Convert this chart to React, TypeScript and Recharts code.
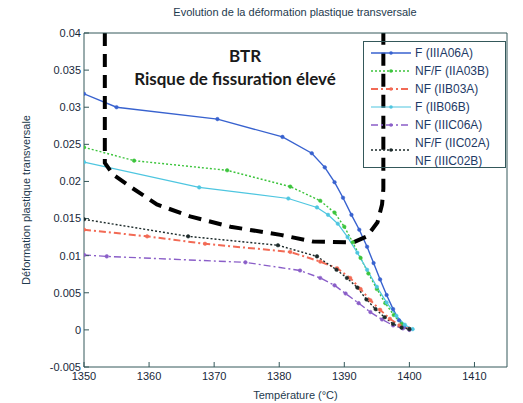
import React from 'react';
import { LineChart, Line, XAxis, YAxis } from 'recharts';

type P = { t: number; v: number };

const xTicks = [1350, 1360, 1370, 1380, 1390, 1400, 1410];
const yTicks = [-0.005, 0, 0.005, 0.01, 0.015, 0.02, 0.025, 0.03, 0.035, 0.04];

const blueF: P[] = [
  { t: 1350, v: 0.0318 }, { t: 1355, v: 0.03 }, { t: 1370.5, v: 0.0284 }, { t: 1380.5, v: 0.026 },
  { t: 1385, v: 0.0238 }, { t: 1387, v: 0.0219 }, { t: 1388.5, v: 0.0199 }, { t: 1389.8, v: 0.0178 },
  { t: 1391.1, v: 0.0155 }, { t: 1392.3, v: 0.0135 }, { t: 1393.5, v: 0.0112 }, { t: 1394.5, v: 0.009 },
  { t: 1395.5, v: 0.0068 }, { t: 1396.5, v: 0.0047 }, { t: 1397.5, v: 0.0028 }, { t: 1398.4, v: 0.0013 },
  { t: 1399.2, v: 0.0004 }, { t: 1400, v: 0.0001 },
];
const greenNFF: P[] = [
  { t: 1350, v: 0.0246 }, { t: 1357.7, v: 0.0228 }, { t: 1372, v: 0.0215 }, { t: 1381.7, v: 0.0193 },
  { t: 1386.3, v: 0.0174 }, { t: 1388.5, v: 0.0158 }, { t: 1390, v: 0.0139 }, { t: 1391.3, v: 0.0118 },
  { t: 1392.5, v: 0.0097 }, { t: 1393.7, v: 0.0076 }, { t: 1395, v: 0.0055 }, { t: 1396.3, v: 0.0036 },
  { t: 1397.6, v: 0.002 }, { t: 1398.8, v: 0.0008 }, { t: 1400, v: 0.0001 },
];
const redNF: P[] = [
  { t: 1350, v: 0.0135 }, { t: 1359.7, v: 0.0126 }, { t: 1368.6, v: 0.0116 }, { t: 1381.7, v: 0.0105 },
  { t: 1386.3, v: 0.0092 }, { t: 1388.9, v: 0.0083 }, { t: 1390.9, v: 0.007 }, { t: 1392.5, v: 0.0055 },
  { t: 1394, v: 0.004 }, { t: 1395.5, v: 0.0027 }, { t: 1397, v: 0.0015 }, { t: 1398.5, v: 0.0006 },
  { t: 1400, v: 0.0001 },
];
const cyanF: P[] = [
  { t: 1350, v: 0.0226 }, { t: 1367.7, v: 0.0192 }, { t: 1381.4, v: 0.0177 }, { t: 1385.8, v: 0.0165 },
  { t: 1387.5, v: 0.0155 }, { t: 1389, v: 0.0143 }, { t: 1390.5, v: 0.0125 }, { t: 1392, v: 0.0104 },
  { t: 1393.5, v: 0.0081 }, { t: 1395, v: 0.0058 }, { t: 1396.5, v: 0.0037 }, { t: 1398, v: 0.0019 },
  { t: 1399.3, v: 0.0007 }, { t: 1400.5, v: 0.0001 },
];
const purpleNF: P[] = [
  { t: 1350, v: 0.0101 }, { t: 1353.5, v: 0.0099 }, { t: 1374.8, v: 0.0091 }, { t: 1383.2, v: 0.008 },
  { t: 1386.3, v: 0.007 }, { t: 1388.5, v: 0.006 }, { t: 1390.2, v: 0.0049 }, { t: 1392.2, v: 0.0036 },
  { t: 1394, v: 0.0024 }, { t: 1395.8, v: 0.0014 }, { t: 1397.5, v: 0.0006 }, { t: 1399, v: 0.0002 },
  { t: 1400, v: 0.0 },
];
const blackNFF: P[] = [
  { t: 1350, v: 0.0149 }, { t: 1366, v: 0.0126 }, { t: 1379.8, v: 0.0114 }, { t: 1385.8, v: 0.0099 },
  { t: 1388.8, v: 0.0081 }, { t: 1390.4, v: 0.007 }, { t: 1392, v: 0.0057 }, { t: 1393.4, v: 0.0041 },
  { t: 1394.8, v: 0.0028 }, { t: 1396.2, v: 0.0017 }, { t: 1397.5, v: 0.0008 }, { t: 1398.8, v: 0.0003 },
  { t: 1400, v: 0.0001 },
];
const btrLimit: P[] = [
  { t: 1353.2, v: 0.04 }, { t: 1353.2, v: 0.0225 }, { t: 1354.5, v: 0.0209 }, { t: 1357.1, v: 0.0193 },
  { t: 1361.2, v: 0.0169 }, { t: 1366.3, v: 0.0153 }, { t: 1372.5, v: 0.0139 }, { t: 1380.2, v: 0.0128 },
  { t: 1385.2, v: 0.0119 }, { t: 1391.4, v: 0.0118 }, { t: 1393.5, v: 0.0126 }, { t: 1395.1, v: 0.0145 },
  { t: 1395.8, v: 0.0169 }, { t: 1396, v: 0.019 }, { t: 1396, v: 0.04 },
];

const seriesNames = ['F (IIIA06A)', 'NF/F (IIA03B)', 'NF (IIB03A)', 'F (IIB06B)', 'NF (IIIC06A)', 'NF/F (IIC02A)'];
const lastExtraName = 'NF (IIIC02B)';

const series = [
  { name: seriesNames[0], data: blueF, color: '#3862cf', dash: undefined, w: 1.4 },
  { name: seriesNames[1], data: greenNFF, color: '#3cc43c', dash: '2 2', w: 1.4 },
  { name: seriesNames[2], data: redNF, color: '#f26a55', dash: '7 3 2 3', w: 2 },
  { name: seriesNames[3], data: cyanF, color: '#4ec6e0', dash: undefined, w: 1.2 },
  { name: seriesNames[4], data: purpleNF, color: '#8a5ec8', dash: '7 3 2 3', w: 1.4 },
  { name: seriesNames[5], data: blackNFF, color: '#1c2a2a', dash: '2 2', w: 1.4 },
];

const axisColor = '#34585a';
const tickStyle = { fontFamily: 'Liberation Sans, Arial, sans-serif', fontSize: 11, fill: '#18283a' };

export default function App() {
  return (
    <div style={{ position: 'absolute', left: 0, top: 0, width: 523, height: 403, background: '#fff' }}>
      <LineChart width={523} height={403} margin={{ top: 32, right: 0, bottom: 0, left: 0 }}>
        <XAxis
          xAxisId="b"
          type="number"
          dataKey="t"
          domain={[1350, 1415]}
          ticks={xTicks}
          allowDataOverflow
          height={36}
          stroke={axisColor}
          tickSize={-5}
          tickMargin={10}
          tick={tickStyle}
          label={{ value: 'Température (°C)', position: 'insideBottom', offset: 4, style: { ...tickStyle, fontSize: 11, fill: '#1e3a4e' } }}
        />
        <XAxis
          xAxisId="t"
          orientation="top"
          type="number"
          dataKey="t"
          domain={[1350, 1415]}
          ticks={xTicks}
          allowDataOverflow
          height={1}
          stroke={axisColor}
          tickSize={-5}
          tick={false}
        />
        <YAxis
          yAxisId="l"
          type="number"
          domain={[-0.005, 0.04]}
          ticks={yTicks}
          allowDataOverflow
          width={84}
          stroke={axisColor}
          tickSize={-5}
          tickMargin={8}
          tick={tickStyle}
          label={{ value: 'Déformation plastique transversale', angle: -90, position: 'insideLeft', offset: 26, style: { ...tickStyle, fontSize: 11, fill: '#1e3a4e', textAnchor: 'middle' } }}
        />
        <YAxis
          yAxisId="r"
          orientation="right"
          type="number"
          domain={[-0.005, 0.04]}
          ticks={yTicks}
          allowDataOverflow
          width={16}
          stroke={axisColor}
          tickSize={-5}
          tick={false}
        />
        {series.map((s) => (
          <Line
            key={s.name}
            xAxisId="b"
            yAxisId="l"
            data={s.data}
            dataKey="v"
            name={s.name}
            type="linear"
            stroke={s.color}
            strokeWidth={s.w}
            strokeDasharray={s.dash}
            dot={{ r: 1.8, fill: s.color, stroke: s.color, strokeWidth: 0.5, strokeDasharray: '' }}
            isAnimationActive={false}
          />
        ))}
        <Line
          xAxisId="b"
          yAxisId="l"
          data={btrLimit}
          dataKey="v"
          name="BTR"
          type="linear"
          stroke="#000"
          strokeWidth={4}
          strokeDasharray="13 8"
          dot={false}
          legendType="none"
          isAnimationActive={false}
        />
      </LineChart>
      <div style={{ position: 'absolute', left: 0, width: 590, top: 6, textAlign: 'center', fontFamily: 'Liberation Sans, Arial, sans-serif', fontSize: 11, color: '#1e3a4e' }}>
        Evolution de la déformation plastique transversale
      </div>
      <div style={{ position: 'absolute', left: 145, width: 200, top: 45, textAlign: 'center', fontFamily: 'Lato, Open Sans, sans-serif', fontWeight: 700, fontSize: 17, lineHeight: '22px', color: '#1a1a1a' }}>
        BTR
      </div>
      <div style={{ position: 'absolute', left: 115, width: 240, top: 68, textAlign: 'center', fontFamily: 'Lato, Open Sans, sans-serif', fontWeight: 700, fontSize: 17, lineHeight: '22px', color: '#1a1a1a', whiteSpace: 'nowrap' }}>
        Risque de fissuration élevé
      </div>
      <div style={{ position: 'absolute', left: 363, top: 41, width: 141, height: 125, border: `1px solid ${axisColor}` }}>
        <svg width={141} height={125} style={{ position: 'absolute', left: 0, top: 0 }}>
          {series.map((s, i) => {
            const y = i < 5 ? 11 + i * 18 : 108;
            return (
              <g key={s.name}>
                <line x1={7} x2={47} y1={y} y2={y} stroke={s.color} strokeWidth={s.w} strokeDasharray={s.dash} />
                <circle cx={27} cy={y} r={1.8} fill={s.color} />
              </g>
            );
          })}
        </svg>
        {seriesNames.map((n, i) => (
          <div key={n} style={{ position: 'absolute', left: 51, top: 3 + i * 18, fontFamily: 'Liberation Sans, Arial, sans-serif', fontSize: 12, color: '#1e3a66', whiteSpace: 'nowrap', lineHeight: '16px' }}>
            {n}
          </div>
        ))}
        <div style={{ position: 'absolute', left: 51, top: 3 + 6 * 18, fontFamily: 'Liberation Sans, Arial, sans-serif', fontSize: 12, color: '#1e3a66', whiteSpace: 'nowrap', lineHeight: '16px' }}>
          {lastExtraName}
        </div>
      </div>
    </div>
  );
}
